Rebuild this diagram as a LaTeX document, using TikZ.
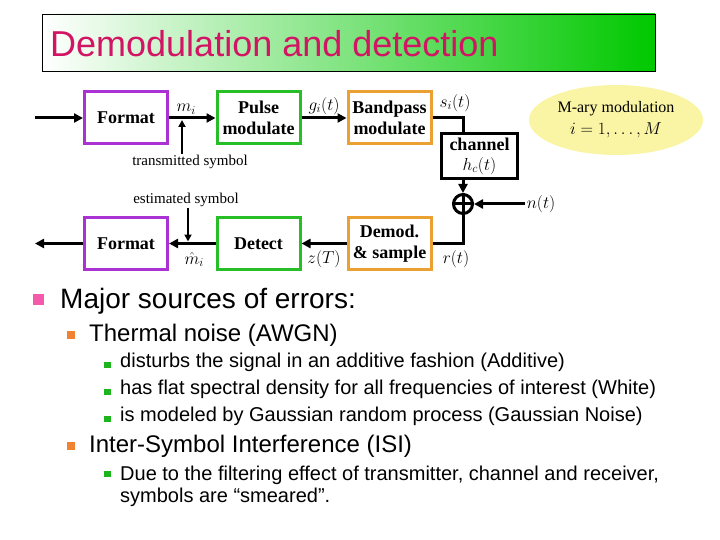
\documentclass[tikz,border=0pt]{standalone}
\usepackage{fontspec}
\setmainfont{Liberation Serif}
\setsansfont{Liberation Sans}
\usetikzlibrary{arrows.meta,shapes.geometric}
\definecolor{titlered}{RGB}{210,20,100}
\definecolor{titlegreen}{RGB}{0,200,0}
\definecolor{fmtcol}{RGB}{170,50,210}
\definecolor{pulsecol}{RGB}{40,190,40}
\definecolor{bandcol}{RGB}{235,160,50}
\definecolor{ovalcol}{RGB}{250,245,165}
\definecolor{dotone}{RGB}{245,90,170}
\definecolor{dottwo}{RGB}{240,130,50}
\definecolor{dotthree}{RGB}{30,180,30}

\begin{document}
\begin{tikzpicture}[x=1pt,y=-1pt,
  blk/.style={draw,line width=3pt,minimum width=83pt,minimum height=52pt,inner sep=1pt,align=center,font=\fontsize{18}{21}\selectfont\bfseries},
  sig/.style={line width=3pt,-{Triangle[length=9pt,width=9pt]}},
  thin sig/.style={line width=1.8pt,-{Triangle[length=7pt,width=7pt]}},
  tag/.style={font=\fontsize{15}{16}\selectfont,inner sep=1pt},
  sym/.style={font=\fontsize{17}{18}\selectfont,inner sep=2pt},
  lvla/.style={anchor=base west,inner sep=0pt,font=\sffamily\fontsize{28}{30}\selectfont},
  lvlb/.style={anchor=base west,inner sep=0pt,font=\sffamily\fontsize{24}{26}\selectfont},
  lvlc/.style={anchor=base west,inner sep=0pt,font=\sffamily\fontsize{20}{22}\selectfont}]
  \useasboundingbox (0,0) rectangle (720,540);
  % title bar
  \draw[line width=0.8pt,left color=white,middle color=titlegreen!45,right color=titlegreen] (42,14) rectangle (655,71);
  \node[anchor=base west,inner sep=0pt,text=titlered,font=\sffamily\fontsize{36}{36}\selectfont] (ttl) at (50,57) {Demodulation and detection};

  % transmitter chain
  \node[blk,draw=fmtcol] (fmtA) at (126,118) {Format};
  \node[blk,draw=pulsecol] (pulse) at (258.5,118) {Pulse\\modulate};
  \node[blk,draw=bandcol] (bpm) at (389.5,118) {Bandpass\\modulate};
  \node[draw,line width=3pt,minimum width=76pt,minimum height=45pt,inner sep=1pt,align=center,font=\fontsize{18}{20}\selectfont] (chan) at (479.5,156) {\bfseries channel\\$h_c(t)$};
  \node[circle,draw,line width=3pt,minimum size=19pt,inner sep=0pt] (sum) at (463,204) {};
  \draw[line width=3pt] (sum.north) -- (sum.south) (sum.west) -- (sum.east);

  % receiver chain
  \node[blk,draw=bandcol] (dem) at (389.5,243.5) {Demod.\\\& sample};
  \node[blk,draw=pulsecol] (det) at (258.5,243.5) {Detect};
  \node[blk,draw=fmtcol] (fmtB) at (126,243.5) {Format};

  \coordinate (src) at (35,118);
  \coordinate (sink) at (35,243.5);
  \coordinate (tx) at (182,120);
  \coordinate (rx) at (188,241.5);

  \draw[sig] (src) -- (fmtA);
  \draw[sig] (fmtA) -- node[sym,above,xshift=-6pt]{$m_i$} (pulse);
  \draw[sig] (pulse) -- node[sym,above]{$g_i(t)$} (bpm);
  \node[sym] (ssig) at (455,103) {$s_i(t)$};
  \draw[line width=3pt] (bpm.east) -| (sum |- chan.north);
  \draw[sig] (sum |- chan.south) -- (sum);
  \node[sym] (noise) at (541,204) {$n(t)$};
  \draw[sig] (noise.west) -- (sum.east);
  \node[sym] (rsig) at (456,259) {$r(t)$};
  \draw[line width=3pt] (sum.south) |- (dem.east);
  \draw[sig] (dem) -- node[sym,below=4pt]{$z(T)$} (det);
  \draw[sig] (det) -- node[sym,below=5pt,xshift=2pt]{$\hat{m}_i$} (fmtB);
  \draw[sig] (fmtB) -- (sink);

  \node[tag] (txsym) at (190,162) {transmitted symbol};
  \draw[thin sig] (txsym.north -| tx) -- (tx);
  \node[tag] (est) at (186,200) {estimated symbol};
  \draw[thin sig] (est.south -| rx) -- (rx);

  \node[ellipse,fill=ovalcol,minimum width=174pt,minimum height=70pt,inner sep=0pt,align=center,font=\fontsize{16}{22}\selectfont] (mary) at (616,120) {M-ary modulation\\$i=1,\dots,M$};

  % list of error sources
  \fill[dotone] (33,294) rectangle (44,305);
  \node[lvla] (errs) at (60,308) {Major sources of errors:};
  \fill[dottwo] (67,331) rectangle (75,339);
  \node[lvlb] (awgn) at (89,341) {Thermal noise (AWGN)};
  \fill[dotthree] (104,362) rectangle (111,368);
  \node[lvlc] (addv) at (120,367) {disturbs the signal in an additive fashion (Additive)};
  \fill[dotthree] (104,389) rectangle (111,395);
  \node[lvlc] (whte) at (120,394) {has flat spectral density for all frequencies of interest (White)};
  \fill[dotthree] (104,416) rectangle (111,422);
  \node[lvlc] (gaus) at (120,421) {is modeled by Gaussian random process (Gaussian Noise)};
  \fill[dottwo] (67,442) rectangle (75,450);
  \node[lvlb] (isi) at (89,452) {Inter-Symbol Interference (ISI)};
  \fill[dotthree] (104,471) rectangle (111,477);
  \node[lvlc] (smrA) at (120,480) {Due to the filtering effect of transmitter, channel and receiver,};
  \node[lvlc] (smrB) at (120,502) {symbols are “smeared”.};
\end{tikzpicture}
\end{document}
